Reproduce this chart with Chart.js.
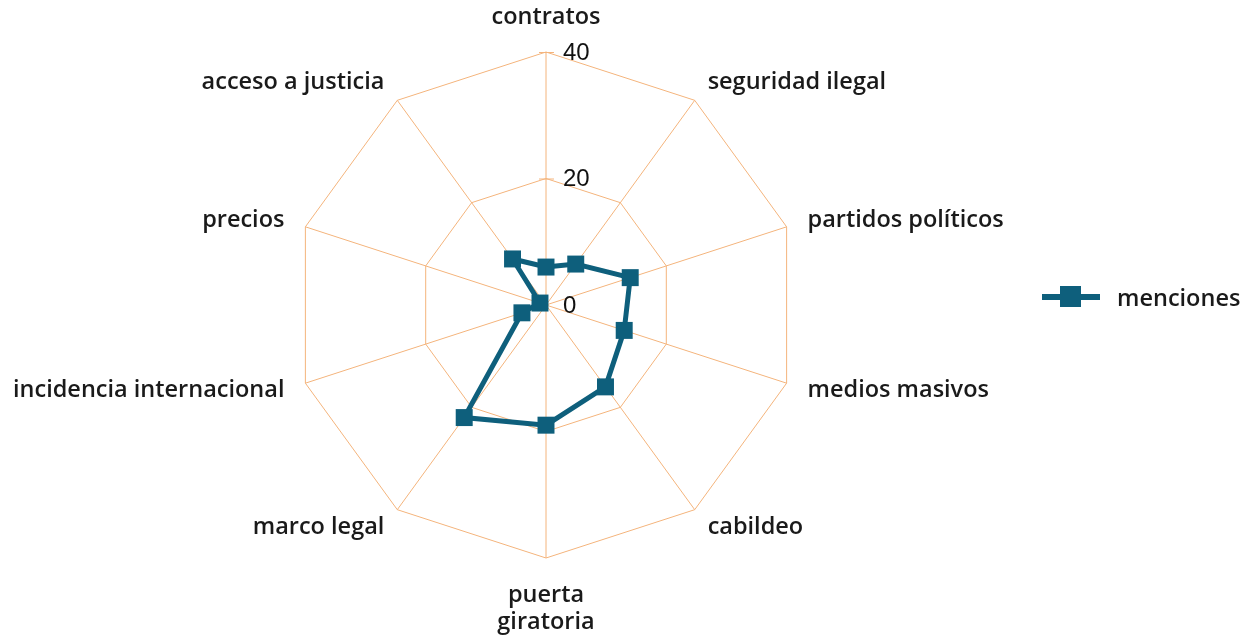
<!DOCTYPE html>
<html>
<head>
<meta charset="utf-8">
<script src="https://cdn.jsdelivr.net/npm/chart.js@4.4.1/dist/chart.umd.min.js"></script>
<style>
    body { margin: 0; background: #fff; }
    #wrap { position: relative; width: 1254px; height: 638px; }
    #legend { position: absolute; left: 1042px; top: 283px; height: 28px; display: flex; align-items: center;
        font-family: "Open Sans", sans-serif; font-weight: 600; font-size: 23.5px; color: #1a1a1a; }
    #legend .sym { position: relative; width: 58px; height: 22px; margin-right: 17px; }
    #legend .ln { position: absolute; left: 0; top: 8px; width: 58px; height: 6px; background: #0e5f7c; }
    #legend .sq { position: absolute; left: 18px; top: 0; width: 21px; height: 21px; background: #0e5f7c; }
</style>
</head>
<body>
<div id="wrap">
    <canvas id="radar" width="1254" height="638"></canvas>
    <div id="legend"><div class="sym"><div class="ln"></div><div class="sq"></div></div><span id="legendText"></span></div>
</div>
<script>
var categories = ['contratos', 'seguridad ilegal', 'partidos políticos', 'medios masivos', 'cabildeo',
    ['puerta', 'giratoria'], 'marco legal', 'incidencia internacional', 'precios', 'acceso a justicia'];
var seriesName = 'menciones';
var menciones = [6, 8, 14, 13, 16, 19, 22, 4, 1, 9];
var tickValues = [0, 20, 40];

var gridColor = '#f4b47c';
var lineColor = '#0e5f7c';
var labelFont = '600 23.5px "Open Sans", sans-serif';

// tick labels sit right of the vertical axis, not on top of it
var tickLabelPlugin = {
    id: 'tickLabels',
    afterDatasetsDraw: function (chart) {
        var scale = chart.scales.r;
        var ctx = chart.ctx;
        ctx.save();
        ctx.font = '24px "Liberation Sans", Arial, sans-serif';
        ctx.fillStyle = '#111';
        ctx.textAlign = 'left';
        ctx.textBaseline = 'middle';
        tickValues.forEach(function (v) {
            var d = scale.getDistanceFromCenterForValue(v);
            var y = scale.yCenter - d;
            if (v > 0) {
                ctx.strokeStyle = gridColor;
                ctx.lineWidth = 1;
                ctx.beginPath();
                ctx.moveTo(scale.xCenter - 7, y + 0.5);
                ctx.lineTo(scale.xCenter + 8, y + 0.5);
                ctx.stroke();
            }
            ctx.fillText(String(v), scale.xCenter + 17, y + 1);
        });
        ctx.restore();
    }
};

// category labels around the outside, side ones centred vertically
var pointLabelPlugin = {
    id: 'pointLabelsOut',
    afterDraw: function (chart) {
        var scale = chart.scales.r;
        var ctx = chart.ctx;
        var lineH = 27;
        ctx.save();
        ctx.font = labelFont;
        ctx.fillStyle = '#1a1a1a';
        ctx.textBaseline = 'middle';
        chart.data.labels.forEach(function (lbl, i) {
            var lines = Array.isArray(lbl) ? lbl : [lbl];
            var p = scale.getPointPosition(i, scale.drawingArea + 22);
            var a = scale.getIndexAngle(i);
            var s = Math.sin(a), c = Math.cos(a);
            var y = p.y - (lines.length - 1) * lineH / 2;
            if (Math.abs(s) < 0.01) {
                ctx.textAlign = 'center';
                y = c > 0 ? p.y - 13 : p.y + 15;
            } else {
                ctx.textAlign = s > 0 ? 'left' : 'right';
            }
            lines.forEach(function (t, k) {
                ctx.fillText(t, p.x, y + k * lineH);
            });
        });
        ctx.restore();
    }
};

document.getElementById('legendText').innerText = seriesName;

new Chart(document.getElementById('radar'), {
    type: 'radar',
    data: {
        labels: categories,
        datasets: [{
            label: seriesName,
            data: menciones,
            borderColor: lineColor,
            backgroundColor: lineColor,
            borderWidth: 5,
            fill: false,
            pointStyle: 'rect',
            pointRadius: 12,
            pointHoverRadius: 12,
            pointBorderWidth: 0,
            pointBackgroundColor: lineColor
        }]
    },
    options: {
        responsive: false,
        animation: false,
        layout: { padding: { left: 293, right: 455, top: 52, bottom: 80 } },
        plugins: {
            legend: { display: false },
            tooltip: { enabled: false }
        },
        scales: {
            r: {
                min: 0,
                max: 40,
                ticks: { stepSize: 20, display: false },
                grid: { color: gridColor, lineWidth: 1 },
                angleLines: { color: gridColor, lineWidth: 1 },
                pointLabels: { display: false }
            }
        }
    },
    plugins: [tickLabelPlugin, pointLabelPlugin]
});
</script>
</body>
</html>
